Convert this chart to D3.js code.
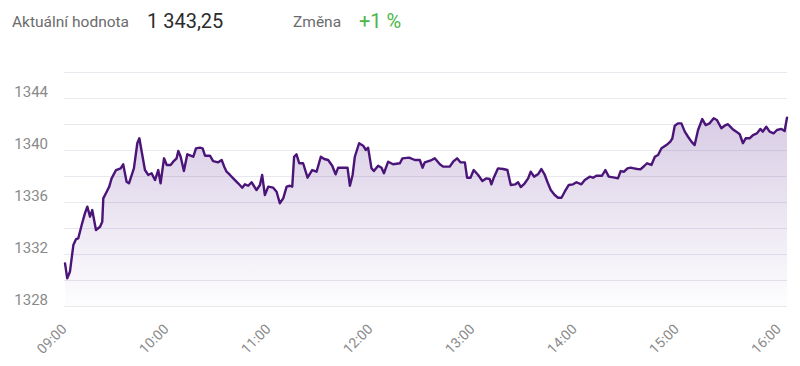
<!DOCTYPE html>
<html>
<head>
<meta charset="utf-8">
<script src="https://cdn.jsdelivr.net/npm/d3@7"></script>
<style>
  html, body { margin: 0; padding: 0; background: #fff; }
  svg { display: block; font-family: Roboto, "Noto Sans", sans-serif; }
</style>
</head>
<body>
<svg id="chart" width="800" height="366"></svg>
<script>
// ---- data (minutes after 09:00, index value) ----
const minutes = [0.6,1.9,3.5,5.5,7.1,8.4,10.4,12.3,13.7,15.3,16.6,18.8,21.2,22.5,23.1,25.1,26.6,28.0,30.6,33.3,34.8,36.8,38.2,41.1,43.1,44.3,45.7,47.6,49.5,51.5,53.5,55.4,56.8,58.8,60.4,62.7,64.2,66.2,67.2,68.6,70.5,72.5,74.5,76.0,77.6,79.9,81.5,82.9,85.8,87.7,90.7,92.7,94.2,95.6,97.6,99.5,102.4,104.8,106.4,108.3,110.3,113.2,115.2,116.5,118.1,120.1,123.0,125.0,126.9,128.9,130.9,132.8,134.2,135.3,136.7,138.3,140.6,143.2,145.9,148.5,151.0,153.0,155.3,157.7,159.7,161.2,166.7,168.1,169.7,171.0,173.5,175.9,177.5,178.8,180.8,182.2,184.7,186.7,188.1,190.6,193.5,197.5,199.0,202.9,206.3,209.2,210.8,212.1,216.1,218.0,221.0,222.9,226.8,228.8,231.1,233.1,235.7,237.0,239.0,240.9,243.5,246.0,248.4,250.3,251.3,252.7,255.2,258.2,260.7,262.7,265.4,267.0,268.6,270.9,272.9,274.4,276.4,278.7,280.7,282.7,284.3,286.2,288.5,290.5,292.5,294.4,296.8,299.3,301.3,304.2,306.2,309.1,311.1,313.0,316.3,318.3,320.3,323.8,325.7,327.3,329.3,331.3,333.2,335.1,337.1,339.1,341.0,342.8,345.4,347.4,349.3,351.3,354.2,356.5,357.7,359.1,361.0,363.0,365.0,366.9,368.9,370.8,372.8,375.3,377.3,379.6,382.0,383.9,386.5,389.0,390.4,393.0,395.3,397.3,399.2,400.8,403.1,405.1,407.4,409.4,410.9,412.9,414.9,417.2,419.2,421.8,423.7,425.1];
const values = [1331.28,1330.13,1330.64,1332.69,1333.15,1333.21,1334.23,1335.13,1335.64,1334.87,1335.38,1333.85,1334.10,1334.48,1336.28,1336.79,1337.18,1337.82,1338.46,1338.59,1338.90,1337.56,1337.44,1338.59,1340.52,1340.90,1339.87,1338.46,1338.08,1338.21,1337.69,1338.46,1337.44,1339.36,1338.85,1338.85,1339.10,1339.36,1339.92,1339.48,1338.38,1339.67,1339.56,1339.48,1340.13,1340.18,1340.13,1339.56,1339.56,1339.15,1339.05,1339.23,1338.72,1338.33,1338.08,1337.82,1337.44,1337.10,1337.36,1337.25,1337.52,1336.92,1337.31,1338.08,1336.54,1337.18,1337.10,1336.79,1335.90,1336.28,1337.18,1337.25,1337.18,1339.48,1339.67,1338.98,1338.98,1337.87,1338.46,1338.33,1339.48,1339.31,1339.23,1338.79,1338.13,1338.64,1338.64,1337.25,1338.08,1339.48,1340.52,1340.33,1340.00,1340.18,1338.59,1338.38,1338.79,1338.64,1338.21,1339.10,1338.90,1338.98,1339.36,1339.41,1339.23,1339.23,1338.64,1339.05,1339.23,1339.36,1338.90,1338.72,1338.72,1339.10,1339.36,1339.05,1339.05,1337.87,1337.87,1338.46,1338.08,1337.62,1337.82,1337.77,1337.36,1337.87,1338.59,1338.54,1338.46,1337.31,1337.36,1337.52,1337.15,1337.44,1337.82,1338.33,1337.95,1338.13,1338.54,1338.08,1337.52,1336.92,1336.54,1336.33,1336.33,1336.79,1337.31,1337.36,1337.52,1337.36,1337.69,1337.95,1337.87,1338.02,1338.02,1338.46,1337.95,1337.87,1337.82,1338.38,1338.33,1338.59,1338.64,1338.59,1338.54,1338.52,1338.75,1338.98,1338.85,1339.48,1339.62,1340.13,1340.38,1340.64,1340.90,1341.87,1342.05,1342.05,1341.41,1341.02,1340.64,1340.38,1341.54,1342.38,1341.92,1342.05,1342.44,1342.31,1341.67,1341.92,1341.98,1341.62,1341.41,1341.21,1340.52,1340.90,1340.90,1341.15,1341.28,1341.62,1341.41,1341.79,1341.41,1341.28,1341.54,1341.62,1341.46,1342.48];
const yTicks = [1328, 1332, 1336, 1340, 1344];
const gridValues = [1328, 1330, 1332, 1334, 1336, 1338, 1340, 1342, 1344, 1346];
const xTickLabels = ["09:00","10:00","11:00","12:00","13:00","14:00","15:00","16:00"];
const headerTexts = ["Aktuální hodnota", "1 343,25", "Změna", "+1 %"];

// ---- layout ----
const svg = d3.select("#chart");
const plotLeft = 64, plotRight = 787, plotTop = 72, plotBottom = 306;
const base = new Date(2020, 0, 1, 9, 0, 0);
const toDate = m => new Date(base.getTime() + m * 60000);
const data = minutes.map((m, i) => ({ t: toDate(m), v: values[i] }));

const x = d3.scaleTime().domain([base, toDate(425.1)]).range([plotLeft, plotRight]);
const y = d3.scaleLinear().domain([1328, 1346]).range([plotBottom, plotTop]);

// header
const hdr = svg.append("g");
hdr.append("text").attr("x", 12).attr("y", 27).attr("font-size", 15.5).attr("fill", "#6b6b6b").text(headerTexts[0]);
hdr.append("text").attr("x", 147).attr("y", 28).attr("font-size", 20).attr("fill", "#2b2b2b").text(headerTexts[1]);
hdr.append("text").attr("x", 293).attr("y", 27).attr("font-size", 15.5).attr("fill", "#6b6b6b").text(headerTexts[2]);
hdr.append("text").attr("x", 359).attr("y", 28).attr("font-size", 20).attr("fill", "#4cb648").text(headerTexts[3]);

// gridlines
svg.append("g").selectAll("line").data(gridValues).join("line")
  .attr("x1", plotLeft).attr("x2", plotRight)
  .attr("y1", d => Math.round(y(d)) + 0.5).attr("y2", d => Math.round(y(d)) + 0.5)
  .attr("stroke", "#e8e8ee").attr("stroke-width", 1);

// gradient
const defs = svg.append("defs");
const grad = defs.append("linearGradient").attr("id", "fillGrad")
  .attr("gradientUnits", "userSpaceOnUse")
  .attr("x1", 0).attr("x2", 0).attr("y1", y(1342.5)).attr("y2", plotBottom);
grad.append("stop").attr("offset", "0%").attr("stop-color", "#6a3d9a").attr("stop-opacity", 0.26);
grad.append("stop").attr("offset", "100%").attr("stop-color", "#6a3d9a").attr("stop-opacity", 0.01);

const area = d3.area().x(d => x(d.t)).y0(plotBottom).y1(d => y(d.v)).curve(d3.curveLinear);
const line = d3.line().x(d => x(d.t)).y(d => y(d.v)).curve(d3.curveLinear);

svg.append("path").datum(data).attr("d", area).attr("fill", "url(#fillGrad)");
svg.append("path").datum(data).attr("d", line)
  .attr("fill", "none").attr("stroke", "#4a1478").attr("stroke-width", 2.4)
  .attr("stroke-linejoin", "round").attr("stroke-linecap", "round");

// y axis labels
const yAxis = d3.axisLeft(y).tickValues(yTicks).tickSize(0).tickPadding(0).tickFormat(d3.format("d"));
const gy = svg.append("g").attr("transform", `translate(48,-6)`).call(yAxis);
gy.select(".domain").remove();
gy.selectAll("text").attr("font-size", 15).attr("fill", "#8a8a8a").attr("font-family", "Roboto, sans-serif");

// x axis labels
const xTickDates = xTickLabels.map(s => { const [h, m] = s.split(":").map(Number); return new Date(2020, 0, 1, h, m, 0); });
const xAxis = d3.axisBottom(x).tickValues(xTickDates).tickSize(0).tickPadding(0)
  .tickFormat((d, i) => xTickLabels[i]);
const gx = svg.append("g").attr("transform", `translate(0,${plotBottom})`).call(xAxis);
gx.select(".domain").remove();
gx.selectAll("text")
  .attr("font-size", 14).attr("fill", "#8a8a8a").attr("font-family", "Roboto, sans-serif")
  .attr("text-anchor", "end").attr("dy", 0).attr("y", 0)
  .attr("transform", "translate(3,24) rotate(-45)");
</script>
</body>
</html>
